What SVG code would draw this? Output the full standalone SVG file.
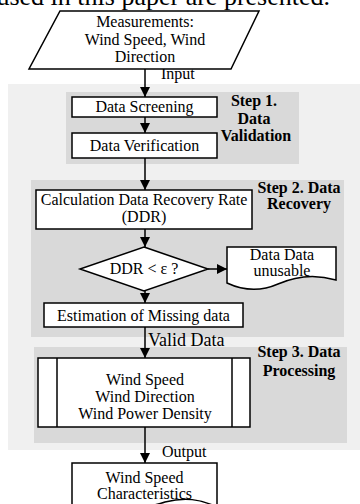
<svg xmlns="http://www.w3.org/2000/svg" width="360" height="504" viewBox="0 0 360 504">
  <style>
    text { font-family: "Liberation Serif", "Times New Roman", serif; fill: #000; }
    .t { font-size: 16px; text-anchor: middle; }
    .step { font-size: 16px; font-weight: bold; text-anchor: middle; }
    .lbl { font-size: 16px; }
    .box { fill: #fff; stroke: #000; stroke-width: 1.5; }
    .ln { stroke: #000; stroke-width: 1.5; fill: none; }
    .conn { stroke: #000; stroke-width: 1.5; fill: none; marker-end: url(#arrow); }
  </style>
  <defs>
    <marker id="arrow" viewBox="0 0 10 10" refX="10" refY="5" markerWidth="7" markerHeight="7" markerUnits="strokeWidth" orient="auto">
      <path d="M0,0 L10,5 L0,10 Z" fill="#000"/>
    </marker>
  </defs>

  <rect width="360" height="504" fill="#fff"/>

  <!-- running text line above the figure -->
  <text x="330" y="5" style="font-size:26px;text-anchor:end">used in this paper are presented.</text>

  <!-- backgrounds for the processing stages -->
  <g id="stages">
    <rect x="8" y="84" width="352" height="366" fill="#f0f0f0"/>
    <rect x="66" y="92" width="233" height="72" fill="#d9d9d9"/>
    <rect x="31" y="180" width="313" height="157" fill="#d9d9d9"/>
    <rect x="34" y="347" width="313" height="96" fill="#d9d9d9"/>
  </g>

  <g id="step1-label">
    <text class="step" x="254" y="106">Step 1.</text>
    <text class="step" x="254" y="124">Data</text>
    <text class="step" x="256" y="141">Validation</text>
  </g>
  <g id="step2-label">
    <text class="step" x="299" y="193">Step 2. Data</text>
    <text class="step" x="299" y="209">Recovery</text>
  </g>
  <g id="step3-label">
    <text class="step" x="299" y="357">Step 3. Data</text>
    <text class="step" x="299" y="376">Processing</text>
  </g>

  <!-- connectors -->
  <g id="connectors">
    <line class="conn" x1="145" y1="69" x2="145" y2="97"/>
    <line class="conn" x1="145" y1="117" x2="145" y2="133"/>
    <line class="conn" x1="145" y1="158" x2="145" y2="190"/>
    <line class="conn" x1="145" y1="229" x2="145" y2="247"/>
    <line class="conn" x1="208" y1="269" x2="227" y2="269"/>
    <line class="conn" x1="145" y1="291" x2="145" y2="303"/>
    <line class="conn" x1="145" y1="327" x2="145" y2="358"/>
    <line class="conn" x1="145" y1="427" x2="145" y2="463"/>
    <text class="lbl" x="161" y="79">Input</text>
    <text class="lbl" x="148" y="346" style="font-size:18px">Valid Data</text>
    <text class="lbl" x="162" y="457">Output</text>
  </g>

  <g id="measurements">
    <path class="box" d="M60,11 H259 L231,69 H29 Z"/>
    <text class="t" x="145" y="27">Measurements:</text>
    <text class="t" x="145" y="45">Wind Speed, Wind</text>
    <text class="t" x="145" y="62">Direction</text>
  </g>

  <g id="data-screening">
    <rect class="box" x="72" y="97" width="145" height="20"/>
    <text class="t" x="144.5" y="112">Data Screening</text>
  </g>

  <g id="data-verification">
    <rect class="box" x="72" y="133" width="145" height="25"/>
    <text class="t" x="144.5" y="151">Data Verification</text>
  </g>

  <g id="ddr-calculation">
    <rect class="box" x="36" y="190" width="216" height="39"/>
    <text class="t" x="144" y="205">Calculation Data Recovery Rate</text>
    <text class="t" x="144" y="222">(DDR)</text>
  </g>

  <g id="ddr-decision">
    <path class="box" d="M144,247 L208,269 L144,291 L80,269 Z"/>
    <text class="t" x="144" y="274">DDR &lt; ε ?</text>
  </g>

  <g id="data-unusable">
    <path class="box" d="M227,247 H336 V280 C316,274 296,276 278,284 C260,292 242,290 227,283 Z"/>
    <text class="t" x="282" y="260">Data Data</text>
    <text class="t" x="282" y="276">unusable</text>
  </g>

  <g id="missing-data">
    <rect class="box" x="44" y="303" width="199" height="24"/>
    <text class="t" x="143.5" y="321">Estimation of Missing data</text>
  </g>

  <g id="processing">
    <rect class="box" x="38" y="358" width="212" height="69"/>
    <line class="ln" x1="57" y1="358" x2="57" y2="427"/>
    <line class="ln" x1="232" y1="358" x2="232" y2="427"/>
    <text class="t" x="145" y="385">Wind Speed</text>
    <text class="t" x="145" y="402">Wind Direction</text>
    <text class="t" x="145" y="419">Wind Power Density</text>
  </g>

  <g id="characteristics">
    <path class="box" d="M72,463 H217 V507 C200,499 185,497 165,502 C140,510 100,514 72,507 Z"/>
    <text class="t" x="144.5" y="483">Wind Speed</text>
    <text class="t" x="144.5" y="499">Characteristics</text>
  </g>
</svg>
